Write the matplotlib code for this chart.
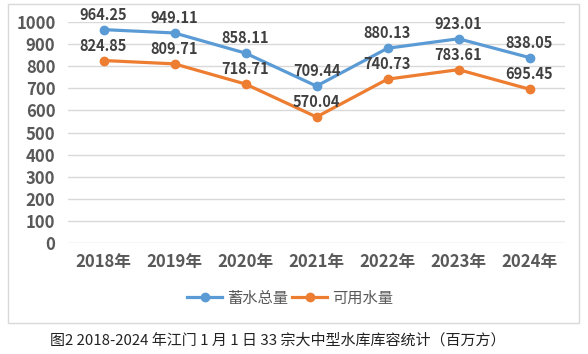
import matplotlib
matplotlib.use("Agg")
import matplotlib.pyplot as plt
from matplotlib.patches import Rectangle

plt.rcParams['font.family'] = ['Noto Sans CJK SC', 'DejaVu Sans']

categories = ["2018年", "2019年", "2020年", "2021年", "2022年", "2023年", "2024年"]
total = [964.25, 949.11, 858.11, 709.44, 880.13, 923.01, 838.05]
usable = [824.85, 809.71, 718.71, 570.04, 740.73, 783.61, 695.45]
series_names = ["蓄水总量", "可用水量"]
yticks = list(range(0, 1001, 100))
caption = "图2 2018-2024 年江门 1 月 1 日 33 宗大中型水库库容统计（百万方）"

blue = "#5B9BD5"
orange = "#ED7D31"
gray = "#595959"

fig = plt.figure(figsize=(5.88, 3.54), dpi=100)
fig.patches.append(Rectangle((8/588, 1-323/354), 571/588, 319/354, transform=fig.transFigure,
                             fill=False, edgecolor="#D9D9D9", linewidth=1.0))
ax = fig.add_axes([68/588, 1-243.3/354, 497/588, 221.6/354])
x = list(range(len(categories)))
ax.plot(x, total, color=blue, lw=2.3, marker='o', ms=6, label=series_names[0], zorder=3)
ax.plot(x, usable, color=orange, lw=2.3, marker='o', ms=6, label=series_names[1], zorder=3)
for series in (total, usable):
    for xi, v in zip(x, series):
        ax.annotate(f"{v:.2f}", (xi, v), xytext=(0, 5), textcoords='offset points', ha='center',
                    va='bottom', fontsize=10.5, fontweight='bold', color="#404040")
ax.set_xlim(-0.5, len(categories) - 0.5)
ax.set_ylim(0, 1000)
ax.set_yticks(yticks)
ax.set_xticks(x)
ax.set_xticklabels(categories)
ax.grid(axis='y', color="#D9D9D9", lw=1)
ax.set_axisbelow(True)
for s in ax.spines.values():
    s.set_visible(False)
ax.tick_params(length=0, colors=gray, labelsize=12)
ax.tick_params(axis='x', pad=7)
ax.tick_params(axis='y', pad=9)
for lab in ax.get_xticklabels() + ax.get_yticklabels():
    lab.set_fontweight('bold')
leg = fig.legend(loc='center', bbox_to_anchor=(290/588, 1-298/354), ncol=2, frameon=False,
                 fontsize=11, handlelength=2.3, columnspacing=0.3, handletextpad=0.3)
for t in leg.get_texts():
    t.set_color(gray)
    t.set_fontweight('medium')
fig.text(278/588, 1-340/354, caption, ha='center', va='center', fontsize=10.8, color="#222222")
fig.savefig("out.png", dpi=100)
